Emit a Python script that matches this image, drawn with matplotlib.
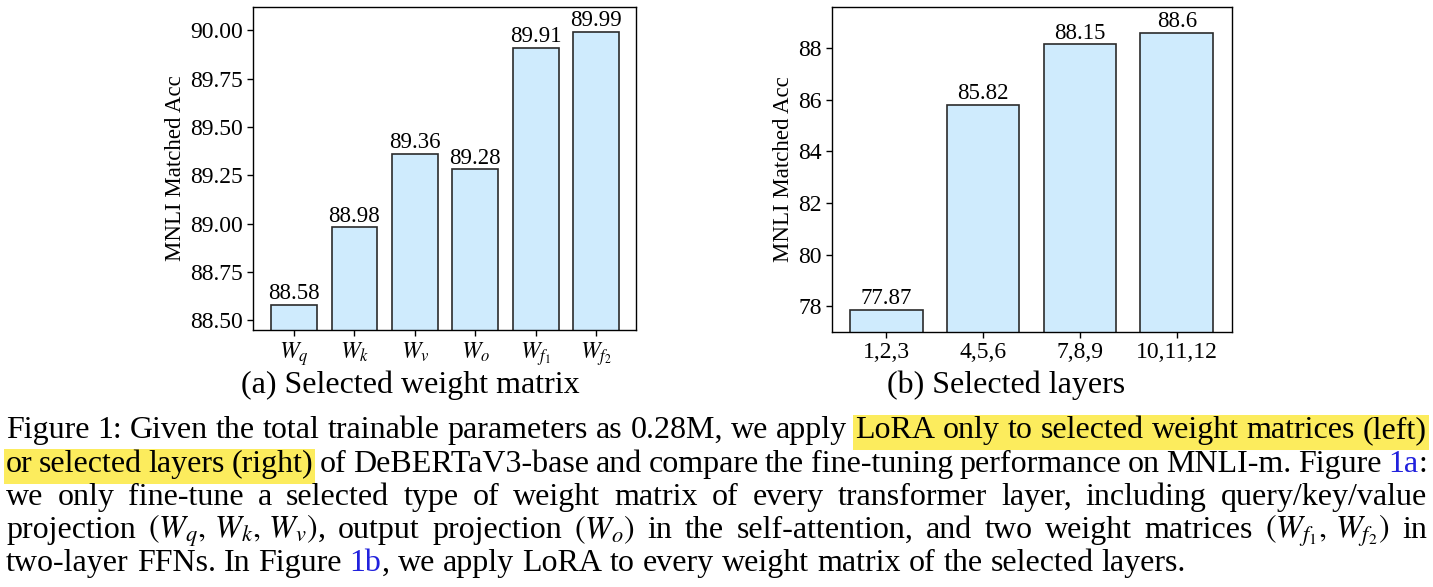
import numpy as np
import matplotlib
matplotlib.use("Agg")
from matplotlib import pyplot as plt
from matplotlib.patches import Rectangle

plt.rcParams["font.family"] = ["Liberation Serif", "DejaVu Serif"]
plt.rcParams["mathtext.fontset"] = "stix"

# ======================
# DATA
# ======================
matrix_labels = [r"$W_q$", r"$W_k$", r"$W_v$", r"$W_o$", r"$W_{f_1}$", r"$W_{f_2}$"]
matrix_acc = [88.58, 88.98, 89.36, 89.28, 89.91, 89.99]

layer_labels = ["1,2,3", "4,5,6", "7,8,9", "10,11,12"]
layer_acc = [77.87, 85.82, 88.15, 88.6]
layer_acc_text = ["77.87", "85.82", "88.15", "88.6"]

caption_lines = [
    "Figure 1: Given the total trainable parameters as 0.28M, we apply [LoRA only to selected weight matrices (left)]",
    "[or selected layers (right)] of DeBERTaV3-base and compare the fine-tuning performance on MNLI-m. Figure |1a|:",
    "we only fine-tune a selected type of weight matrix of every transformer layer, including query/key/value",
    r"projection $(W_q,\,W_k,\,W_v)$, output projection $(W_o)$ in the self-attention, and two weight matrices $(W_{f_1},\,W_{f_2})$ in",
    "two-layer FFNs. In Figure |1b|, we apply LoRA to every weight matrix of the selected layers.",
]

W, H = 1433, 587
fig = plt.figure(figsize=(W / 100, H / 100), dpi=100)

bar_face = (0.529, 0.808, 0.980, 0.4)   # lightskyblue, alpha .4
bar_edge = "#2b2b2b"


def px_axes(left, top, right, bottom):
    return fig.add_axes([left / W, 1 - bottom / H, (right - left) / W, (bottom - top) / H])


def style(ax):
    for s in ax.spines.values():
        s.set_linewidth(1.0)
        s.set_color("black")
    ax.tick_params(axis="both", length=4, width=1, labelsize=17, color="black")
    ax.set_ylabel("MNLI Matched Acc", fontsize=16.5, labelpad=3)


# ======================
# (a) weight matrix
# ======================
ax1 = px_axes(253, 7, 636, 330)
x1 = np.arange(len(matrix_acc))
ax1.bar(x1, matrix_acc, width=0.76, color=bar_face, edgecolor=bar_edge, linewidth=1.2)
for xi, v in zip(x1, matrix_acc):
    ax1.annotate(f"{v:.2f}", (xi, v), xytext=(0, 0.5), textcoords="offset points",
                 ha="center", va="bottom", fontsize=16.5)
ax1.set_xticks(x1)
ax1.set_xticklabels(matrix_labels, fontsize=20)
ax1.set_xlim(-0.68, 5.66)
ax1.set_ylim(88.45, 90.12)
ax1.set_yticks([88.50, 88.75, 89.00, 89.25, 89.50, 89.75, 90.00])
ax1.set_yticklabels([f"{t:.2f}" for t in ax1.get_yticks()])
style(ax1)

# ======================
# (b) layers
# ======================
ax2 = px_axes(832, 7, 1232, 332)
x2 = np.arange(len(layer_acc))
ax2.bar(x2, layer_acc, width=0.75, color=bar_face, edgecolor=bar_edge, linewidth=1.2)
for xi, v, s in zip(x2, layer_acc, layer_acc_text):
    ax2.annotate(s, (xi, v), xytext=(0, 0.5), textcoords="offset points",
                 ha="center", va="bottom", fontsize=16.5)
ax2.set_xticks(x2)
ax2.set_xticklabels(layer_labels)
ax2.set_xlim(-0.56, 3.57)
ax2.set_ylim(77.0, 89.6)
ax2.set_yticks([78, 80, 82, 84, 86, 88])
style(ax2)

fig.text(410 / W, 1 - 385 / H, "(a) Selected weight matrix", ha="center", va="center", fontsize=23)
fig.text(1006 / W, 1 - 385 / H, "(b) Selected layers", ha="center", va="center", fontsize=23)

# ======================
# CAPTION (justified)
# ======================
renderer = fig.canvas.get_renderer()
cap_size = 23
left_px, right_px = 6, 1427
baselines = [438, 472, 505, 538, 571]
space_px = 0.25 * cap_size * 100 / 72


def make_word(word):
    # pieces of (text, colour) plus highlight start/end flags
    hl_start = word.startswith("[")
    hl_end = word.endswith("]")
    word = word.strip("[]")
    parts = word.split("|")
    pieces = []
    for i, p in enumerate(parts):
        if p:
            pieces.append((p, "#2121dd" if i % 2 == 1 else "black"))
    return pieces, hl_start, hl_end


for li, (line, base) in enumerate(zip(caption_lines, baselines)):
    words = [make_word(w) for w in line.split(" ")]
    items = []
    total = 0
    for pieces, hs, he in words:
        arts = []
        wsum = 0
        for txt, col in pieces:
            t = fig.text(0, 1 - base / H, txt, color=col, fontsize=cap_size, va="baseline", ha="left")
            wpx = t.get_window_extent(renderer).width
            arts.append((t, wpx))
            wsum += wpx
        items.append((arts, wsum, hs, he))
        total += wsum
    if li < len(caption_lines) - 1:
        gap = (right_px - left_px - total) / (len(items) - 1)
    else:
        gap = space_px
    x = left_px
    hl_x0 = None
    for arts, wsum, hs, he in items:
        if hs:
            hl_x0 = x - 2
        for t, wpx in arts:
            t.set_x(x / W)
            x += wpx
        if he and hl_x0 is not None:
            fig.add_artist(Rectangle((hl_x0 / W, 1 - (base + 12) / H), (x + 2 - hl_x0) / W, 35 / H,
                                     transform=fig.transFigure, facecolor="#fcec5d",
                                     edgecolor="none", zorder=-1))
            hl_x0 = None
        x += gap

fig.savefig("out.png", dpi=100, facecolor="white")
